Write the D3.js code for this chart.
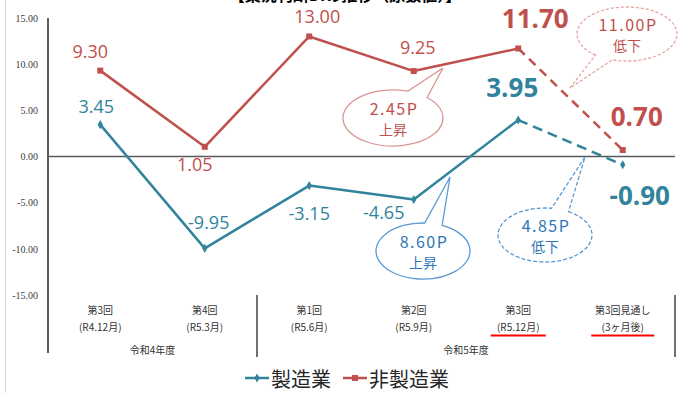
<!DOCTYPE html>
<html>
<head>
<meta charset="utf-8">
<script src="https://cdn.jsdelivr.net/npm/d3@7"></script>
<style>
  html, body { margin: 0; padding: 0; background: #fff; }
  svg { display: block; }
</style>
</head>
<body>
<svg id="chart" width="679" height="393"></svg>
<script>
// 調査回（カテゴリ）
const rounds = ["第3回", "第4回", "第1回", "第2回", "第3回", "第3回見通し"];
const periods = ["(R4.12月)", "(R5.3月)", "(R5.6月)", "(R5.9月)", "(R5.12月)", "(3ヶ月後)"];
const fiscalYears = ["令和4年度", "令和5年度"];
const fiscalSpan = [[0, 1], [2, 5]];
// 業況判断DI
const seriesNames = ["製造業", "非製造業"];
const manufacturing = [3.45, -9.95, -3.15, -4.65, 3.95, -0.90];
const nonManufacturing = [9.30, 1.05, 13.00, 9.25, 11.70, 0.70];
const yTicks = [15, 10, 5, 0, -5, -10, -15];
// 吹き出しの文言
const calloutTexts = [["2.45P", "上昇"], ["11.00P", "低下"], ["8.60P", "上昇"], ["4.85P", "低下"]];

const svg = d3.select("#chart");
const TEAL = "#31849b", RED = "#c0504d";

const x = d3.scaleBand().domain(d3.range(rounds.length)).range([48, 675]).padding(0);
const cx = i => x(i) + x.bandwidth() / 2;
const y = d3.scaleLinear().domain([-15, 15]).range([295, 18]);

// 左端の枠線
svg.append("line").attr("x1", 5.5).attr("x2", 5.5).attr("y1", 0).attr("y2", 393)
  .attr("stroke", "#d9d9d9").attr("stroke-width", 1);

// タイトル（上端）
svg.append("text").attr("x", 345).attr("y", 1).attr("text-anchor", "middle")
  .attr("font-family", "Noto Sans CJK JP").attr("font-weight", "bold").attr("font-size", 16)
  .attr("fill", "#000").text("【業況判断DIの推移（原数値）】");

// 縦軸
const yAxis = d3.axisLeft(y).tickValues(yTicks).tickSize(0).tickPadding(10)
  .tickFormat(d => d.toFixed(2));
const gy = svg.append("g").attr("transform", "translate(48,0)").call(yAxis);
gy.select(".domain").remove();
gy.selectAll("text").attr("font-family", "Liberation Serif").attr("font-size", 10).attr("fill", "#404040");
svg.append("line").attr("x1", 48).attr("x2", 48).attr("y1", y(15)).attr("y2", 353)
  .attr("stroke", "#262626").attr("stroke-width", 1.5);

// ゼロ線
svg.append("line").attr("x1", 48).attr("x2", 675).attr("y1", y(0)).attr("y2", y(0))
  .attr("stroke", "#595959").attr("stroke-width", 1.5);

// 年度区切り
[x(2), 675].forEach(px => {
  svg.append("line").attr("x1", px).attr("x2", px).attr("y1", 295).attr("y2", 357)
    .attr("stroke", "#404040").attr("stroke-width", 1.5);
});

// カテゴリラベル
const catG = svg.append("g").attr("font-family", "Noto Sans CJK JP").attr("font-size", 10)
  .attr("fill", "#333").attr("text-anchor", "middle");
rounds.forEach((r, i) => {
  catG.append("text").attr("x", cx(i)).attr("y", 314).text(r);
  catG.append("text").attr("x", cx(i)).attr("y", 331).text(periods[i]);
});
fiscalYears.forEach((fy, k) => {
  const [a, b] = fiscalSpan[k];
  catG.append("text").attr("x", (x(a) + x(b) + x.bandwidth()) / 2).attr("y", 354).text(fy);
});
// 強調下線
[4, 5].forEach(i => {
  const w = i === 4 ? 55 : 63;
  svg.append("line").attr("x1", cx(i) - w / 2).attr("x2", cx(i) + w / 2)
    .attr("y1", 335.5).attr("y2", 335.5).attr("stroke", "#ff0000").attr("stroke-width", 2);
});

// 折れ線（実績は実線、見通しは破線）
function drawSeries(values, color, marker, dash) {
  const pts = values.map((v, i) => [cx(i), y(v)]);
  const line = d3.line();
  svg.append("path").attr("d", line(pts.slice(0, 5))).attr("fill", "none")
    .attr("stroke", color).attr("stroke-width", 2.5).attr("stroke-linejoin", "round");
  svg.append("path").attr("d", line(pts.slice(4))).attr("fill", "none")
    .attr("stroke", color).attr("stroke-width", 2.5).attr("stroke-dasharray", dash);
  pts.forEach(p => {
    if (marker === "square") {
      svg.append("rect").attr("x", p[0] - 3).attr("y", p[1] - 3).attr("width", 6).attr("height", 6)
        .attr("fill", color);
    } else {
      svg.append("path").attr("d", d3.symbol(d3.symbolDiamond, 24)())
        .attr("transform", `translate(${p[0]},${p[1]})`).attr("fill", color);
    }
  });
}
drawSeries(nonManufacturing, RED, "square", "9,6");
drawSeries(manufacturing, TEAL, "diamond", "10,6");

// データラベル
const labelFont = "Open Sans";
const fmt = v => v.toFixed(2);
// [index, dx, dy(点からのずれ), 太字]
const redLabels = [[0, -10, -20, false], [1, -10, 17, false], [2, 8, -20, false], [3, 4, -24, false],
                   [4, 17, -30, true], [5, 14, -34, true]];
const tealLabels = [[0, -4, -19, false], [1, 4, -26, false], [2, 0, 27, false], [3, -30, 13, false],
                    [4, -6, -33, true], [5, 17, 30, true]];
function drawLabels(values, specs, color) {
  specs.forEach(([i, dx, dy, bold]) => {
    svg.append("text").attr("x", cx(i) + dx).attr("y", y(values[i]) + dy)
      .attr("text-anchor", "middle").attr("dominant-baseline", "central")
      .attr("font-family", labelFont).attr("font-size", bold ? 26 : 18)
      .attr("font-weight", bold ? "bold" : "normal").attr("fill", color)
      .text(fmt(values[i]));
  });
}
drawLabels(nonManufacturing, redLabels, RED);
drawLabels(manufacturing, tealLabels, TEAL);

// 吹き出し
const callouts = [
  { c: [393, 118], r: [50, 28], a: [-73, -47], tip: [443, 68], stroke: "#d99694", text: "#c0504d", dash: null },
  { c: [627, 34], r: [50, 27], a: [107, 129], tip: [570, 88], stroke: "#e6a3a1", text: "#c0504d", dash: "3,2" },
  { c: [423, 251], r: [47, 28], a: [-88, -66], tip: [450, 177], stroke: "#5b9bd5", text: "#2e75b6", dash: null },
  { c: [545, 235], r: [47, 27], a: [-82, -60], tip: [585, 157], stroke: "#5b9bd5", text: "#2e75b6", dash: "4,2" }
];
callouts.forEach((co, k) => {
  const [ex, ey] = co.c, [rx, ry] = co.r;
  const pt = a => [ex + rx * Math.cos(a * Math.PI / 180), ey + ry * Math.sin(a * Math.PI / 180)];
  const p1 = pt(co.a[0]), p2 = pt(co.a[1]);
  const d = `M${p2[0]},${p2[1]} A${rx},${ry} 0 1 1 ${p1[0]},${p1[1]} L${co.tip[0]},${co.tip[1]} Z`;
  svg.append("path").attr("d", d).attr("fill", "#fff").attr("stroke", co.stroke)
    .attr("stroke-width", 1.3).attr("stroke-dasharray", co.dash);
  const [t1, t2] = calloutTexts[k];
  svg.append("text").attr("x", ex + 1).attr("y", ey - 10).attr("text-anchor", "middle")
    .attr("dominant-baseline", "central").attr("font-family", "Noto Sans CJK JP")
    .attr("font-size", 16).attr("letter-spacing", 1.5).attr("fill", co.text).text(t1);
  svg.append("text").attr("x", ex).attr("y", ey + 11).attr("text-anchor", "middle")
    .attr("dominant-baseline", "central").attr("font-family", "Noto Sans CJK JP")
    .attr("font-size", 14).attr("fill", co.text).text(t2);
});

// 凡例
const legend = [{ name: seriesNames[0], color: TEAL, x: 245, marker: "diamond" },
                { name: seriesNames[1], color: RED, x: 343, marker: "square" }];
legend.forEach(l => {
  svg.append("line").attr("x1", l.x).attr("x2", l.x + 24).attr("y1", 378).attr("y2", 378)
    .attr("stroke", l.color).attr("stroke-width", 2.5);
  if (l.marker === "square") {
    svg.append("rect").attr("x", l.x + 9).attr("y", 375).attr("width", 6).attr("height", 6).attr("fill", l.color);
  } else {
    svg.append("path").attr("d", d3.symbol(d3.symbolDiamond, 24)())
      .attr("transform", `translate(${l.x + 12},378)`).attr("fill", l.color);
  }
  svg.append("text").attr("x", l.x + 26).attr("y", 378).attr("dominant-baseline", "central")
    .attr("font-family", "Noto Sans CJK JP").attr("font-size", 20).attr("fill", "#262626").text(l.name);
});
</script>
</body>
</html>
